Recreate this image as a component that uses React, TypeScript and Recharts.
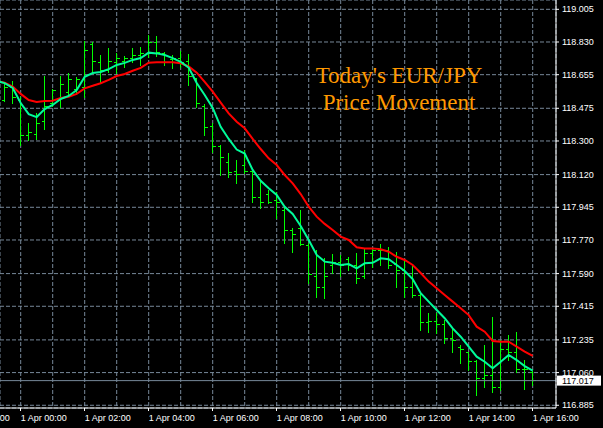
import React from 'react';
import {
  ComposedChart,
  XAxis,
  YAxis,
  CartesianGrid,
  Bar,
  Line,
  ReferenceLine,
} from 'recharts';

// M15 bars, index 0 = 1 Apr 00:00. Bars run from index -2 (31 Mar 23:30) to 64 (1 Apr 16:00).
const FIRST_BAR = -2;
const opens = [
  118.519, 118.584, 118.519, 118.332, 118.337, 118.402, 118.498, 118.53, 118.557, 118.573,
  118.584, 118.819, 118.718, 118.68, 118.718, 118.723, 118.744, 118.76, 118.771, 118.825,
  118.771, 118.734, 118.744, 118.723, 118.637, 118.482, 118.375, 118.268, 118.187, 118.134,
  118.171, 118.134, 117.995, 118.011, 117.984, 117.93, 117.823, 117.834, 117.743, 117.572,
  117.518, 117.636, 117.647, 117.668, 117.636, 117.577, 117.695, 117.711, 117.716, 117.641,
  117.609, 117.518, 117.475, 117.326, 117.331, 117.315, 117.245, 117.192, 117.165, 117.117,
  117.031, 117.047, 116.978, 117.181, 117.165, 117.074, 117.063,
];
const highs = [
  118.612, 118.621, 118.537, 118.396, 118.45, 118.648, 118.578, 118.648, 118.664, 118.643,
  118.835, 118.83, 118.76, 118.798, 118.771, 118.755, 118.798, 118.803, 118.867, 118.862,
  118.776, 118.76, 118.782, 118.766, 118.637, 118.498, 118.396, 118.278, 118.236, 118.198,
  118.252, 118.145, 118.091, 118.038, 118.027, 117.941, 117.834, 117.93, 117.754, 117.716,
  117.673, 117.695, 117.69, 117.679, 117.7, 117.727, 117.727, 117.748, 117.732, 117.706,
  117.663, 117.636, 117.492, 117.379, 117.379, 117.342, 117.299, 117.208, 117.17, 117.127,
  117.208, 117.358, 117.234, 117.261, 117.277, 117.127, 117.069,
];
const lows = [
  118.516, 118.503, 118.278, 118.305, 118.311, 118.364, 118.487, 118.482, 118.546, 118.552,
  118.535, 118.664, 118.616, 118.669, 118.664, 118.696, 118.723, 118.707, 118.75, 118.755,
  118.707, 118.691, 118.696, 118.6, 118.482, 118.332, 118.241, 118.118, 118.107, 118.075,
  118.129, 117.973, 117.941, 117.968, 117.888, 117.754, 117.706, 117.743, 117.54, 117.465,
  117.459, 117.593, 117.577, 117.609, 117.54, 117.566, 117.625, 117.636, 117.62, 117.518,
  117.465, 117.465, 117.288, 117.277, 117.272, 117.218, 117.17, 117.111, 117.074, 116.94,
  116.983, 116.956, 116.967, 117.127, 117.063, 116.972, 116.994,
];
const closes = [
  118.584, 118.535, 118.327, 118.343, 118.396, 118.487, 118.568, 118.6, 118.627, 118.627,
  118.787, 118.723, 118.68, 118.723, 118.744, 118.744, 118.76, 118.771, 118.825, 118.776,
  118.718, 118.744, 118.718, 118.643, 118.498, 118.37, 118.273, 118.214, 118.129, 118.118,
  118.134, 117.995, 117.968, 117.973, 117.968, 117.823, 117.797, 117.748, 117.583, 117.518,
  117.572, 117.647, 117.631, 117.636, 117.566, 117.695, 117.711, 117.716, 117.631, 117.609,
  117.518, 117.475, 117.326, 117.331, 117.315, 117.245, 117.234, 117.181, 117.117, 117.031,
  117.047, 116.978, 117.181, 117.165, 117.074, 117.074, 117.017,
];

// Moving averages, starting one bar earlier (index -3) so the lines reach the left edge.
const FIRST_MA = -3;
const fastMA = [
  118.621, 118.61, 118.584, 118.503, 118.444, 118.428, 118.471, 118.493, 118.525, 118.541,
  118.573, 118.644, 118.664, 118.669, 118.685, 118.707, 118.718, 118.734, 118.744, 118.773,
  118.769, 118.76, 118.744, 118.724, 118.693, 118.61, 118.546, 118.477, 118.376, 118.311,
  118.254, 118.233, 118.145, 118.087, 118.047, 118.011, 117.948, 117.909, 117.845, 117.77,
  117.69, 117.654, 117.648, 117.636, 117.641, 117.618, 117.645, 117.648, 117.672, 117.667,
  117.636, 117.604, 117.561, 117.485, 117.44, 117.395, 117.351, 117.297, 117.252, 117.199,
  117.145, 117.118, 117.083, 117.118, 117.154, 117.127, 117.095, 117.07,
];
const slowMA = [
  118.621, 118.612, 118.591, 118.552, 118.519, 118.509, 118.514, 118.516, 118.53, 118.537,
  118.552, 118.582, 118.596, 118.609, 118.627, 118.648, 118.659, 118.676, 118.691, 118.719,
  118.721, 118.721, 118.721, 118.716, 118.699, 118.666, 118.617, 118.564, 118.505, 118.448,
  118.403, 118.368, 118.311, 118.257, 118.207, 118.171, 118.118, 118.073, 118.016, 117.948,
  117.895, 117.856, 117.823, 117.788, 117.77, 117.731, 117.725, 117.725, 117.72, 117.707,
  117.68, 117.663, 117.636, 117.593, 117.547, 117.511, 117.475, 117.44, 117.404, 117.368,
  117.306, 117.279, 117.229, 117.225, 117.225, 117.199, 117.172, 117.149,
];

const currentPrice = 117.017;

const priceTicks = [
  116.885, 117.06, 117.235, 117.415, 117.59, 117.77, 117.945, 118.12, 118.3, 118.475,
  118.655, 118.83, 119.005,
];

// time axis: labelled every 2 hours (8 bars), grid every hour (4 bars)
const timeLabelBars = [-8, 0, 8, 16, 24, 32, 40, 48, 56, 64];
const timeLabels = [
  '31 Mar 22:00', '1 Apr 00:00', '1 Apr 02:00', '1 Apr 04:00', '1 Apr 06:00',
  '1 Apr 08:00', '1 Apr 10:00', '1 Apr 12:00', '1 Apr 14:00', '1 Apr 16:00',
];
const hourGridBars = [-8, -4, 0, 4, 8, 12, 16, 20, 24, 28, 32, 36, 40, 44, 48, 52, 56, 60, 64];

const titleLines = ["Today's EUR/JPY", 'Price Movement'];

const data = fastMA.map((f, i) => {
  const k = FIRST_MA + i;
  const j = k - FIRST_BAR;
  const has = j >= 0 && j < opens.length;
  return {
    k,
    fast: f,
    slow: slowMA[i],
    open: has ? opens[j] : null,
    high: has ? highs[j] : null,
    low: has ? lows[j] : null,
    close: has ? closes[j] : null,
  };
});

const AXIS_FONT = "'Liberation Sans', Arial, sans-serif";
const GRID = '#778899';

const OhlcShape = (props: any) => {
  const { x, y, width, height, payload } = props;
  if (!payload || payload.high == null || x == null || y == null) return null;
  const top = Math.min(y, y + height);
  const h = Math.abs(height);
  const range = payload.high - payload.low || 1;
  const yOf = (v: number) => top + ((payload.high - v) / range) * h;
  const cx = x + width / 2;
  const yo = yOf(payload.open);
  const yc = yOf(payload.close);
  return (
    <g stroke="#00ff00" strokeWidth={1} shapeRendering="crispEdges">
      <line x1={cx} x2={cx} y1={top} y2={top + h + 1} />
      <line x1={cx - 3} x2={cx} y1={yo} y2={yo} />
      <line x1={cx} x2={cx + 3} y1={yc} y2={yc} />
    </g>
  );
};

const XTick = (props: any) => {
  const { x, y, payload } = props;
  const idx = timeLabelBars.indexOf(payload.value);
  if (idx < 0) return null;
  return (
    <g>
      <line x1={x} x2={x} y1={y - 5} y2={y - 2} stroke="#ffffff" shapeRendering="crispEdges" />
      <text x={x} y={y} dy={8} fill="#ffffff" fontSize={9} fontFamily={AXIS_FONT} textAnchor="start">
        {timeLabels[idx]}
      </text>
    </g>
  );
};

const PriceLabel = (props: any) => {
  const vb = props.viewBox || {};
  const x = (vb.x || 0) + (vb.width || 0);
  const y = vb.y || 0;
  return (
    <g>
      <rect x={x + 1} y={y - 5} width={44} height={10} fill="#ffffff" />
      <text x={x + 6} y={y} dy="0.36em" fill="#000000" fontSize={9} fontFamily={AXIS_FONT} textAnchor="start">
        {currentPrice.toFixed(3)}
      </text>
    </g>
  );
};

export default function App() {
  return (
    <div
      style={{
        position: 'absolute',
        left: 0,
        top: 0,
        width: 603,
        height: 428,
        background: '#000000',
        overflow: 'hidden',
      }}
    >
      <ComposedChart
        width={603}
        height={428}
        data={data}
        margin={{ top: 0, right: 0, bottom: 0, left: 0 }}
      >
        <CartesianGrid stroke={GRID} strokeDasharray="4 2" />
        <XAxis
          dataKey="k"
          type="number"
          domain={[-2.5875, 66.9125]}
          allowDataOverflow
          ticks={hourGridBars}
          interval={0}
          tick={<XTick />}
          tickLine={false}
          tickSize={3}
          tickMargin={2}
          axisLine={{ stroke: '#ffffff' }}
          height={20}
        />
        <YAxis
          orientation="right"
          type="number"
          domain={[116.8704, 119.0548]}
          allowDataOverflow
          ticks={priceTicks}
          interval={0}
          tickFormatter={(v: number) => v.toFixed(3)}
          tick={{ fill: '#ffffff', fontSize: 9, fontFamily: AXIS_FONT }}
          tickLine={{ stroke: '#ffffff' }}
          tickSize={3}
          tickMargin={3}
          axisLine={{ stroke: '#ffffff' }}
          width={47}
        />
        <ReferenceLine y={currentPrice} stroke={GRID} strokeWidth={1} label={<PriceLabel />} />
        <Bar
          dataKey={(d: any) => (d.high == null ? null : [d.low, d.high])}
          barSize={6}
          shape={<OhlcShape />}
          isAnimationActive={false}
        />
        <Line
          dataKey="slow"
          stroke="#ff0000"
          strokeWidth={2}
          dot={false}
          activeDot={false}
          isAnimationActive={false}
        />
        <Line
          dataKey="fast"
          stroke="#00fa9a"
          strokeWidth={2}
          dot={false}
          activeDot={false}
          isAnimationActive={false}
        />
      </ComposedChart>
      <div
        style={{
          position: 'absolute',
          left: 299,
          top: 62,
          width: 200,
          textAlign: 'center',
          fontFamily: "'Liberation Serif', 'Times New Roman', serif",
          fontSize: 23,
          lineHeight: '27px',
          color: '#ff9900',
          whiteSpace: 'nowrap',
        }}
      >
        {titleLines.map((t) => (
          <div key={t}>{t}</div>
        ))}
      </div>
    </div>
  );
}
